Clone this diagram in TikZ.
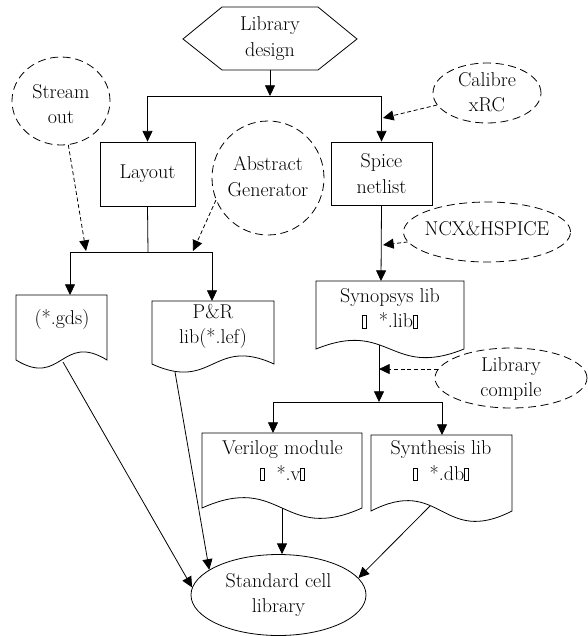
\documentclass[tikz,border=0pt]{standalone}
\usetikzlibrary{arrows.meta,shapes.geometric}
\newcommand{\gbox}{{\setlength{\fboxsep}{0pt}\setlength{\fboxrule}{0.5pt}\fbox{\rule{0pt}{0.6em}\hspace{0.16em}}}}
\begin{document}
\begin{tikzpicture}[x=0.75pt,y=-0.75pt,
  font=\rmfamily\fontsize{15}{19}\selectfont,
  line width=0.6pt,
  arr/.style={-{Triangle[length=8pt,width=7.5pt]}},
  darr/.style={arr, dash pattern=on 3pt off 2pt},
  bub/.style={ellipse, draw, dash pattern=on 6pt off 3.5pt, inner sep=0pt},
  solidell/.style={ellipse, draw, inner sep=0pt},
  boxnode/.style={rectangle, draw, inner sep=0pt},
  txt/.style={align=center, inner sep=0pt}]
\useasboundingbox (0,0) rectangle (587,636);

% hexagon
\draw (183,39) -- (222,7) -- (318,7) -- (357,39) -- (318,70) -- (222,70) -- cycle;
\node[txt] (hex) at (270,38.5) {Library\\design};
\coordinate (hexb) at (270,70);
\coordinate (j1) at (270,96);

% boxes
\node[boxnode, minimum width=71.25pt, minimum height=48pt] (layout) at (147.5,174) {Layout};
\node[boxnode, minimum width=75.75pt, minimum height=47.25pt, align=center] (spice) at (381.5,173.5) {Spice\\netlist};

% bubbles
\node[bub, minimum width=73.5pt, minimum height=66pt] (so) at (61,101) {};
\node[txt] (sot) at (61,104) {Stream\\out};
\node[bub, minimum width=84pt, minimum height=85.5pt] (ag) at (268,178) {};
\node[txt] (agt) at (268,176.5) {Abstract\\Generator};
\node[bub, minimum width=81pt, minimum height=45pt] (cal) at (487,93) {};
\node[txt] (calt) at (487,92) {Calibre\\xRC};
\node[bub, minimum width=125.25pt, minimum height=45pt] (ncx) at (487,232) {};
\node[txt] (ncxt) at (487,229) {NCX\&HSPICE};
\node[bub, minimum width=114pt, minimum height=45pt] (lc) at (511,378) {};
\node[txt] (lct) at (511,379) {Library\\compile};

% documents
\draw (16,360) -- (16,295) -- (107,295) -- (107,360) .. controls (61.5,332) and (61.5,388) .. (16,360) -- cycle;
\node[txt] (gds) at (62,320) {(*.gds)};
\draw (152,364) -- (152,301) -- (274,301) -- (274,364) .. controls (213,336) and (213,392) .. (152,364) -- cycle;
\node[txt] (pr) at (213,326.5) {P\&R\\lib(*.lef)};
\draw (316,349) -- (316,281) -- (464,281) -- (464,349) .. controls (390,379) and (390,319) .. (316,349) -- cycle;
\node[txt] (syn) at (390,308.5) {Synopsys lib\\\gbox\hspace{0.6em}*.lib\gbox\hspace{0.9em}};
\draw (202,508) -- (202,433) -- (362,433) -- (362,508) .. controls (282,544) and (282,472) .. (202,508) -- cycle;
\node[txt] (ver) at (282.5,461) {Verilog module\\\gbox\hspace{0.6em}*.v\gbox\hspace{1.1em}};
\draw (371,511) -- (371,435) -- (512,435) -- (512,511) .. controls (441.5,547) and (441.5,475) .. (371,511) -- cycle;
\node[txt] (sth) at (441,461) {Synthesis lib\\\gbox\hspace{0.6em}*.db\gbox\hspace{1.1em}};

% final
\node[solidell, minimum width=131.25pt, minimum height=60.75pt] (scl) at (278.5,595) {};
\node[txt] (sclt) at (278.5,595) {Standard cell\\library};

% coordinates
\coordinate (j2) at (148,252);
\coordinate (gdsin) at (70,295);
\coordinate (prin) at (212,301);
\coordinate (synin) at (381,281);
\coordinate (synout) at (379,345);
\coordinate (j3) at (379,402);
\coordinate (verin) at (273,433);
\coordinate (sthin) at (442,435);
\coordinate (gdsout) at (63,362);
\coordinate (prout) at (175,372);
\coordinate (verout) at (282,508);
\coordinate (sthout) at (430,506);
\coordinate (t1) at (86,251);
\coordinate (t2) at (193,251);
\coordinate (t3) at (383,118);
\coordinate (t4) at (383,245);

% solid connectors
\draw[arr] (hexb) -- (j1);
\draw[arr] (j1) -| (layout.north);
\draw[arr] (j1) -| (spice.north);
\draw (layout.south) -- (j2);
\draw[arr] (j2) -| (gdsin);
\draw[arr] (j2) -| (prin);
\draw[arr] (spice.south) -- (synin);
\draw[arr] (synout) -- (j3);
\draw[arr] (j3) -| (verin);
\draw[arr] (j3) -| (sthin);
\draw[arr] (gdsout) -- (scl.175);
\draw[arr] (prout) -- (scl.160);
\draw[arr] (verout) -- (verout |- scl.north);
\draw[arr] (sthout) -- (scl.12);

% dashed connectors
\draw[darr] (so) -- (t1);
\draw[darr] (ag.203) -- (t2);
\draw[darr] (cal) -- (t3);
\draw[darr] (ncx) -- (t4);
\draw[darr] (lc.173) -- (lc.173 -| j3);
\end{tikzpicture}
\end{document}
